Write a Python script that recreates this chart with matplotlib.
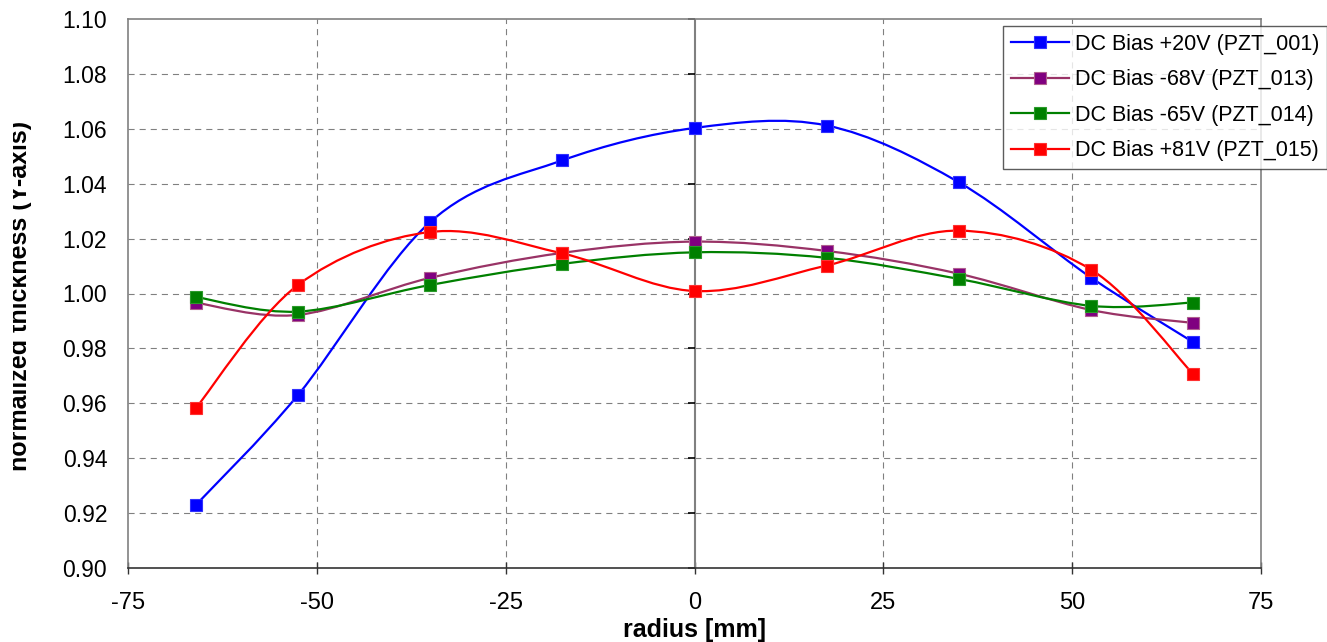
import numpy as np
import matplotlib
matplotlib.use("Agg")
import matplotlib.pyplot as plt
from matplotlib.path import Path
from matplotlib.patches import PathPatch
from matplotlib.lines import Line2D
from matplotlib.transforms import Bbox, TransformedBbox

plt.rcParams['font.family'] = ['Liberation Sans', 'DejaVu Sans']

# radius positions [mm]
radius = [-66, -52.5, -35, -17.5, 0, 17.5, 35, 52.5, 66]

pzt_001 = [0.923, 0.963, 1.026, 1.0485, 1.0603, 1.0612, 1.0405, 1.0058, 0.9823]
pzt_013 = [0.9966, 0.9922, 1.0057, 1.0148, 1.0189, 1.0155, 1.0072, 0.9940, 0.9893]
pzt_014 = [0.9987, 0.9934, 1.0031, 1.0108, 1.0150, 1.0130, 1.0053, 0.9955, 0.9967]
pzt_015 = [0.9583, 1.0031, 1.0224, 1.0146, 1.0009, 1.0102, 1.0229, 1.0087, 0.9707]

labels = ["DC Bias +20V (PZT_001)", "DC Bias -68V (PZT_013)",
          "DC Bias -65V (PZT_014)", "DC Bias +81V (PZT_015)"]
line_colors = ['#0000FF', '#993366', '#008000', '#FF0000']
face_colors = ['#0000FF', '#800080', '#008000', '#FF0000']
edge_colors = ['#3030FF', '#B06090', '#2A9A2A', '#FF3030']


def smooth_path(x, y):
    # excel-like smoothed line: cubic bezier segments through the points
    p = np.column_stack([x, y]).astype(float)
    n = len(p)
    verts = [p[0]]
    codes = [Path.MOVETO]
    for i in range(n - 1):
        p_prev = p[i - 1] if i > 0 else p[i]
        p_next2 = p[i + 2] if i + 2 < n else p[i + 1]
        c1 = p[i] + (p[i + 1] - p_prev) / 6.0
        c2 = p[i + 1] - (p_next2 - p[i]) / 6.0
        verts += [c1, c2, p[i + 1]]
        codes += [Path.CURVE4] * 3
    return Path(verts, codes)


fig = plt.figure(figsize=(13.27, 6.42), dpi=100)
ax = fig.add_axes([128/1327, 1 - 568/642, (1261 - 128)/1327, (568 - 19)/642])

ax.set_xlim(-75, 75)
ax.set_ylim(0.90, 1.10)
xt = np.arange(-75, 76, 25)
yt = np.round(np.arange(0.90, 1.1001, 0.02), 2)
ax.set_xticks(xt)
ax.set_yticks(yt)
ax.set_xticklabels(['%d' % v for v in xt])
ax.set_yticklabels(['%.2f' % v for v in yt])

# gridlines
for v in xt[1:-1]:
    if v != 0:
        ax.axvline(v, color='#808080', lw=0.8, ls=(0, (5.5, 4.5)), zorder=1)
for v in yt[1:-1]:
    ax.axhline(v, color='#808080', lw=0.8, ls=(0, (5.5, 4.5)), zorder=1)

# value axis crossing at 0
ax.axvline(0, color='#808080', lw=1.5, zorder=2)
ax.plot(np.zeros(len(yt)), yt, ls='none', marker=0, ms=5, mew=1.2, color='k',
        zorder=2, clip_on=False)

handles = []
series = [pzt_001, pzt_013, pzt_014, pzt_015]
for s, lab, lc, fc, ec in zip(series, labels, line_colors, face_colors, edge_colors):
    ax.add_patch(PathPatch(smooth_path(radius, s), fill=False, edgecolor=lc,
                           lw=1.6, zorder=3))
    ax.plot(radius, s, ls='none', marker='s', ms=8.5, mfc=fc, mec=ec, mew=0.8,
            zorder=4)
    handles.append(Line2D([], [], color=lc, lw=1.6, marker='s', ms=8.5,
                          mfc=fc, mec=ec, mew=0.8))

for side in ['left', 'top', 'right']:
    ax.spines[side].set_color('#808080')
    ax.spines[side].set_linewidth(1.2)
ax.spines['bottom'].set_color('#333333')
ax.spines['bottom'].set_linewidth(1.2)

ax.tick_params(axis='y', length=0, pad=15, labelsize=16.5)
ax.tick_params(axis='x', direction='inout', length=9, width=1, color='#333333',
               pad=13, labelsize=17)

ax.set_xlabel('radius [mm]', fontsize=18, fontweight='bold', labelpad=3)

ylab = fig.text(32/1327, 1 - 296/642, 'normalized thickness (Y-axis)',
                rotation=90, fontsize=18, fontweight='bold',
                ha='right', va='center')
ylab.set_clip_box(TransformedBbox(Bbox([[12.7/1327, 0], [0.09, 1]]), fig.transFigure))
ylab.set_clip_on(True)

leg = fig.legend(handles, labels, loc='upper left',
                 bbox_to_anchor=(1003/1327, 1 - 26/642), fontsize=15.5,
                 frameon=True, fancybox=False, shadow=False,
                 handlelength=2.7, handletextpad=0.3, labelspacing=0.68,
                 borderpad=0.35, borderaxespad=0)
leg.get_frame().set_edgecolor('#333333')
leg.get_frame().set_linewidth(1.0)

fig.savefig('out.png', dpi=100)
